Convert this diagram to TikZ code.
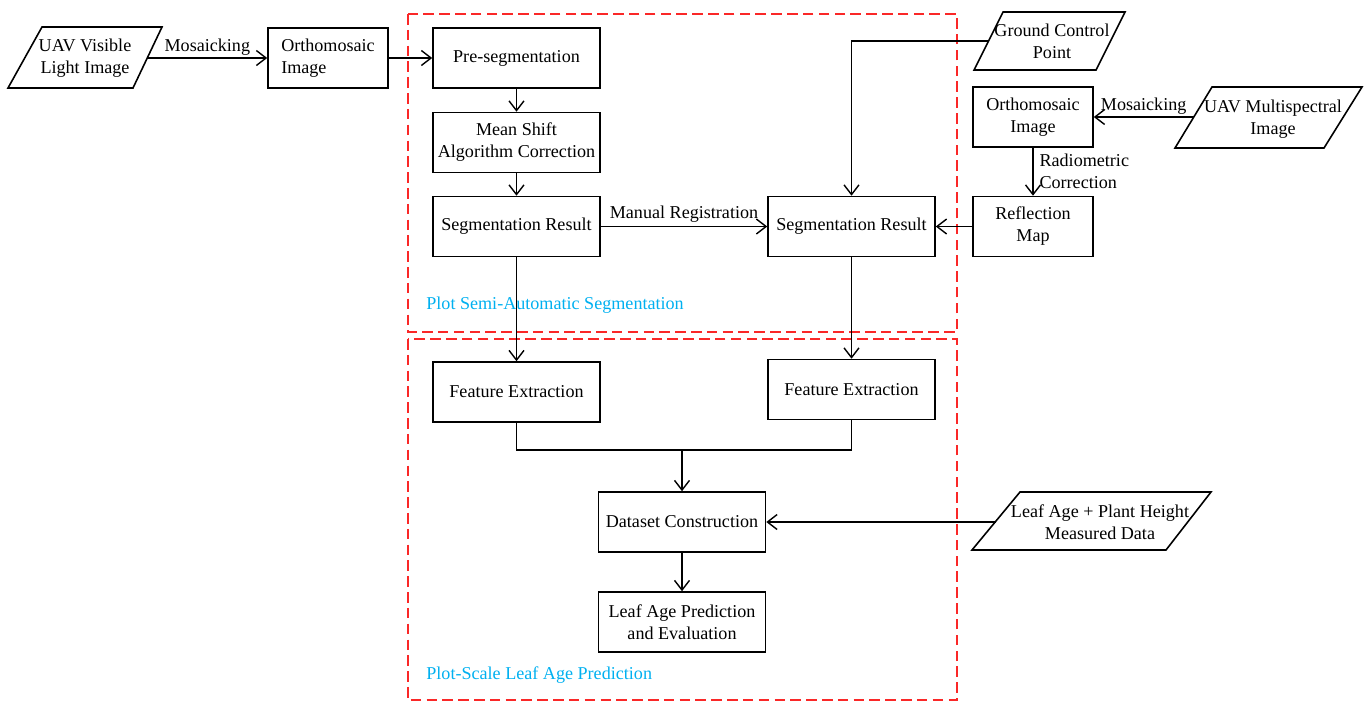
\documentclass[tikz,border=0pt]{standalone}
\usepackage{fontspec}
\setmainfont{Liberation Serif}
\usetikzlibrary{arrows.meta,positioning}
\definecolor{labelblue}{RGB}{0,176,240}
\definecolor{framered}{RGB}{250,40,40}

\begin{document}
\begin{tikzpicture}[x=0.2mm,y=-0.2mm,
  font=\fontsize{10.3}{12.5}\selectfont,
  box/.style={draw,line width=0.9pt,minimum width=33.4mm,minimum height=12mm,align=center,inner sep=1pt},
  smallbox/.style={box,minimum width=24mm},
  io/.style={align=center,inner sep=0pt},
  arr/.style={-{Straight Barb[length=5.5pt,width=8.5pt]},line width=0.8pt},
  frame/.style={framered,line width=1.1pt,dash pattern=on 6pt off 3pt},
  tag/.style={labelblue,anchor=west,inner sep=0pt}]
  \useasboundingbox (0,0) rectangle (1368,702);
  % dashed frames
  \draw[frame] (408,14) rectangle (957,332);
  \draw[frame] (408,339) rectangle (957,700);
  \node[tag] (tagseg) at (426,305) {Plot Semi-Automatic Segmentation};
  \node[tag] (tagpred) at (426,675) {Plot-Scale Leaf Age Prediction};
  % input data
  \draw[line width=0.9pt] (42,27) -- (162,27) -- (133,88) -- (8,88) -- cycle;
  \node[io] (vis) at (85,58) {UAV Visible\\Light Image};
  \coordinate (visout) at (147.5,58);
  \draw[line width=0.9pt] (1003,12) -- (1125,12) -- (1096,70) -- (974,70) -- cycle;
  \node[io] (gcp) at (1052,41) {Ground Control\\Point};
  \coordinate (gcpin) at (988.5,41);
  \draw[line width=0.9pt] (1212,87) -- (1362,87) -- (1324,148) -- (1175,148) -- cycle;
  \node[io] (msi) at (1273,119) {UAV Multispectral\\Image};
  \coordinate (msiin) at (1193.5,117);
  \draw[line width=0.9pt] (1020,492) -- (1211,492) -- (1166,550) -- (972,550) -- cycle;
  \node[io] (leaf) at (1100,522) {Leaf Age + Plant Height\\Measured Data};
  \coordinate (leafin) at (996,522);
  % process boxes
  \node[smallbox,align=left] (orthoL) at (328,58) {Orthomosaic\\Image};
  \node[box] (preseg) at (516.5,58) {Pre-segmentation};
  \node[box] (meanshift) at (516.5,142.5) {Mean Shift\\Algorithm Correction};
  \node[box] (segL) at (516.5,226.5) {Segmentation Result};
  \node[box] (segR) at (851.5,226.5) {Segmentation Result};
  \node[smallbox] (orthoR) at (1033,117) {Orthomosaic\\Image};
  \node[smallbox] (refl) at (1033,226.5) {Reflection\\Map};
  \node[box] (featL) at (516.5,392) {Feature Extraction};
  \node[box] (featR) at (851.5,389.5) {Feature Extraction};
  \node[box] (dataset) at (682,522) {Dataset Construction};
  \node[box] (predict) at (682,622) {Leaf Age Prediction\\and Evaluation};
  % connectors
  \draw[arr] (visout) -- node[above=-2.5pt] (mosL) {Mosaicking} (orthoL);
  \draw[arr] (orthoL) -- (preseg);
  \foreach \a/\b in {preseg/meanshift,meanshift/segL,segL/featL,segR/featR,dataset/predict}
    \draw[arr] (\a) -- (\b);
  \draw[arr] (segL) -- node[above=-1.5pt] (manreg) {Manual Registration} (segR);
  \draw[arr] (gcpin) -| (segR.north);
  \draw[arr] (msiin) -- node[above=-2.5pt] (mosR) {Mosaicking} (orthoR.east);
  \draw[arr] (orthoR) -- node[right,align=left] (radcor) {Radiometric\\Correction} (refl);
  \draw[arr] (refl) -- (segR);
  \coordinate (merge) at (682,450);
  \draw[line width=0.8pt] (featL.south) |- (merge) -| (featR.south);
  \draw[arr] (merge) -- (dataset);
  \draw[arr] (leafin) -- (dataset);
\end{tikzpicture}
\end{document}
